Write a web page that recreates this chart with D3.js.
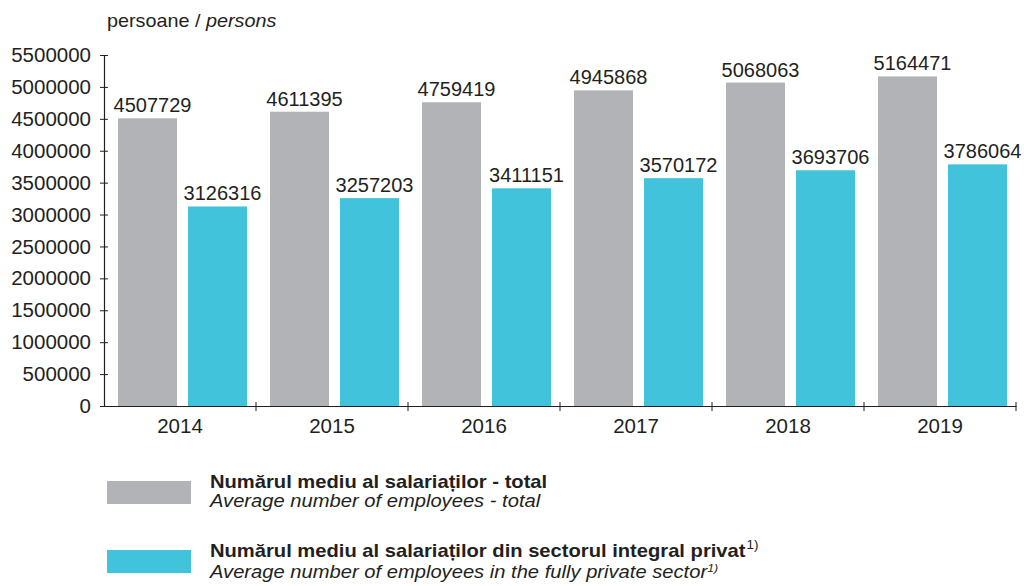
<!DOCTYPE html>
<html>
<head>
<meta charset="utf-8">
<script src="https://cdn.jsdelivr.net/npm/d3@7"></script>
<style>
  body { margin: 0; background: #fff; }
  svg text { font-family: "Liberation Sans", Arial, sans-serif; fill: #231f20; }
</style>
</head>
<body>
<div id="plot"></div>
<script>
// Data
var years = ["2014", "2015", "2016", "2017", "2018", "2019"];
var totalEmployees = [4507729, 4611395, 4759419, 4945868, 5068063, 5164471];
var privateEmployees = [3126316, 3257203, 3411151, 3570172, 3693706, 3786064];
var yTicks = [0, 500000, 1000000, 1500000, 2000000, 2500000, 3000000, 3500000, 4000000, 4500000, 5000000, 5500000];
var seriesNames = ["total", "private"];
var colors = {total: "#b2b3b7", private: "#42c3dc"};

var width = 1024, height = 586;
var margin = {top: 55, left: 104, right: 8, bottom: 180};

var svg = d3.select("#plot").append("svg")
    .attr("width", width)
    .attr("height", height);

// Scales
var x0 = d3.scaleBand()
    .domain(years)
    .range([margin.left, 1016])
    .padding(0);

var x1 = d3.scaleBand()
    .domain(seriesNames)
    .range([14, 143])
    .paddingInner(11 / 70);

var y = d3.scaleLinear()
    .domain([0, 5500000])
    .range([406, 55]);

var rows = years.map(function(yr, i) {
  return {year: yr, values: [
    {key: "total", value: totalEmployees[i]},
    {key: "private", value: privateEmployees[i]}
  ]};
});

// Bars
var groups = svg.selectAll("g.year")
    .data(rows)
    .enter().append("g")
    .attr("class", "year")
    .attr("transform", function(d) { return "translate(" + x0(d.year) + ",0)"; });

groups.selectAll("rect")
    .data(function(d) { return d.values; })
    .enter().append("rect")
    .attr("x", function(d) { return x1(d.key); })
    .attr("y", function(d) { return y(d.value); })
    .attr("width", x1.bandwidth())
    .attr("height", function(d) { return y(0) - y(d.value); })
    .style("fill", function(d) { return colors[d.key]; });

// Value labels
groups.selectAll("text.val")
    .data(function(d) { return d.values; })
    .enter().append("text")
    .attr("class", "val")
    .attr("x", function(d) { return x1(d.key) + x1.bandwidth() / 2 + 5; })
    .attr("y", function(d) { return y(d.value) - 6; })
    .attr("text-anchor", "middle")
    .style("font-size", "20px")
    .text(function(d) { return d.value; });

// Y axis
var yAxis = svg.append("g")
    .attr("transform", "translate(" + margin.left + ",0)")
    .call(d3.axisLeft(y).tickValues(yTicks).tickFormat(d3.format("d"))
      .tickSizeInner(4).tickSizeOuter(0).tickPadding(9));
yAxis.select(".domain").attr("stroke", "#231f20").attr("stroke-width", 1.2);
yAxis.selectAll(".tick line").attr("x2", 4).attr("x1", -4).attr("stroke", "#231f20");
yAxis.selectAll(".tick text").style("font-size", "20.5px").attr("font-family", null).attr("fill", "#231f20");

// X axis
var xAxis = svg.append("g")
    .attr("transform", "translate(0," + y(0) + ")")
    .call(d3.axisBottom(x0).tickSize(0).tickPadding(9));
xAxis.select(".domain").attr("stroke", "#231f20").attr("stroke-width", 1.2);
xAxis.selectAll(".tick text").style("font-size", "20.5px").attr("font-family", null).attr("fill", "#231f20").attr("dy", "0.9em");

// Separator ticks between year groups
xAxis.selectAll("line.sep")
    .data(years.slice(1).concat(["end"]))
    .enter().append("line")
    .attr("class", "sep")
    .attr("x1", function(d) { return d === "end" ? x0.range()[1] : x0(d); })
    .attr("x2", function(d) { return d === "end" ? x0.range()[1] : x0(d); })
    .attr("y1", -4)
    .attr("y2", 5)
    .attr("stroke", "#231f20");

// Unit label
var unit = svg.append("text")
    .attr("transform", "translate(107,27) scale(1.1,1)")
    .style("font-size", "18px");
unit.append("tspan").text("persoane / ");
unit.append("tspan").style("font-style", "italic").text("persons");

// Legend
var legendItems = [
  {key: "total", ro: "Numărul mediu al salariaților - total", en: "Average number of employees - total", sup: false, y: 481},
  {key: "private", ro: "Numărul mediu al salariaților din sectorul integral privat", en: "Average number of employees in the fully private sector", sup: true, y: 550}
];

var legend = svg.selectAll("g.legend")
    .data(legendItems)
    .enter().append("g")
    .attr("class", "legend")
    .attr("transform", function(d) { return "translate(107," + d.y + ")"; });

legend.append("rect")
    .attr("width", 84)
    .attr("height", 23)
    .style("fill", function(d) { return colors[d.key]; });

var ro = legend.append("text")
    .attr("transform", "translate(103,7) scale(1.12,1)")
    .style("font-size", "18px")
    .style("font-weight", "bold");
ro.append("tspan").text(function(d) { return d.ro; });
ro.filter(function(d) { return d.sup; }).append("tspan")
    .attr("dy", -8)
    .attr("dx", 1)
    .style("font-size", "12px")
    .style("font-weight", "normal")
    .text("1)");

var en = legend.append("text")
    .attr("transform", function(d) { return "translate(103," + (d.sup ? 28 : 26) + ") scale(1.12,1)"; })
    .style("font-size", "18px")
    .style("font-style", "italic");
en.append("tspan").text(function(d) { return d.en; });
en.filter(function(d) { return d.sup; }).append("tspan")
    .attr("dy", -6)
    .style("font-size", "11px")
    .text("1)");
</script>
</body>
</html>
